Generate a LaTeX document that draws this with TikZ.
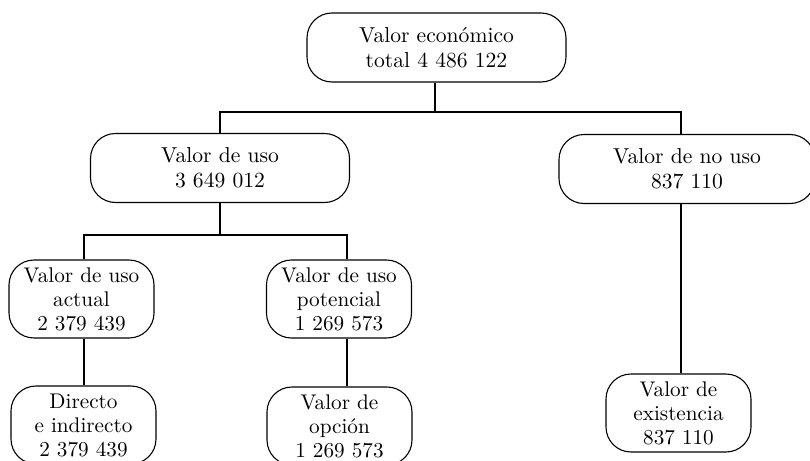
\documentclass[tikz,border=0pt]{standalone}
\begin{document}
\begin{tikzpicture}[x=0.5pt,y=-0.5pt,
    caja/.style={draw,rounded corners=12.5pt,align=center,inner sep=0pt,
      line width=0.55pt,font=\fontsize{10.6}{12}\selectfont},
    ancha/.style={caja,minimum width=129.5pt,minimum height=34.5pt,
      font=\fontsize{10.8}{12.5}\selectfont},
    estrecha/.style={caja,minimum width=72.5pt,minimum height=39pt}]
  \useasboundingbox (0,0) rectangle (810,461);
  \node[ancha] (tot) at (436.5,47.5) {Valor económico\\total 4 486 122};
  \node[ancha] (uso) at (220,168) {Valor de uso\\3 649 012};
  \node[ancha,minimum width=128pt] (nouso) at (687,169) {Valor de no uso\\837 110};
  \node[estrecha] (act) at (81.5,299) {Valor de uso\\actual\\2 379 439};
  \node[estrecha] (pot) at (339,299) {Valor de uso\\potencial\\1 269 573};
  \node[estrecha] (dir) at (83.5,425) {Directo\\e indirecto\\2 379 439};
  \node[estrecha] (opc) at (339.5,426) {Valor de\\opción\\1 269 573};
  \node[estrecha] (exi) at (678.5,413) {Valor de\\existencia\\837 110};
  \coordinate (j1) at (435,112);
  \coordinate (j2) at (220,235);
  \begin{scope}[line width=0.55pt]
    \draw (tot.south -| j1) -- (j1);
    \draw (uso.north) |- (j1) -| ([xshift=-3pt]nouso.north);
    \draw (uso.south) -- (j2);
    \draw ([xshift=1.25pt]act.north) |- (j2) -| ([xshift=4pt]pot.north);
    \draw ([xshift=1.25pt]act.south) -- ([xshift=0.25pt]dir.north);
    \draw ([xshift=4pt]pot.south) -- ([xshift=3.75pt]opc.north);
    \draw ([xshift=-3pt]nouso.south) -- ([xshift=1.25pt]exi.north);
  \end{scope}
\end{tikzpicture}
\end{document}
